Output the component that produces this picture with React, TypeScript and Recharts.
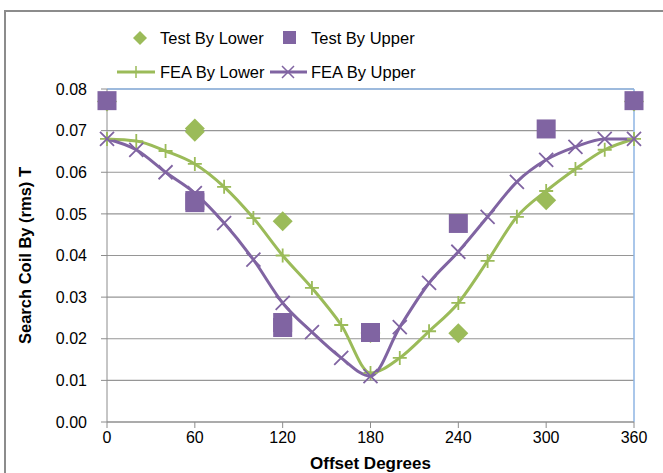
import {
  ComposedChart,
  Line,
  Scatter,
  XAxis,
  YAxis,
  CartesianGrid,
  ReferenceLine,
} from "recharts";

// offset angles (deg) and readings
const feaAngles = [0, 20, 40, 60, 80, 100, 120, 140, 160, 180, 200, 220, 240, 260, 280, 300, 320, 340, 360];
const feaLower = [0.068, 0.0675, 0.0651, 0.062, 0.0565, 0.049, 0.040, 0.0322, 0.0233, 0.0118, 0.0154, 0.0218, 0.0286, 0.0387, 0.0493, 0.0555, 0.0608, 0.0654, 0.068];
const feaUpper = [0.068, 0.0654, 0.060, 0.055, 0.0478, 0.039, 0.0286, 0.0216, 0.0154, 0.0110, 0.0228, 0.0334, 0.0409, 0.0493, 0.0577, 0.063, 0.0661, 0.068, 0.068];

const testLowerAngles = [0, 60, 60, 120, 180, 240, 300, 360];
const testLowerValues = [0.077, 0.0705, 0.0697, 0.0482, 0.0214, 0.0213, 0.0533, 0.077];
const testUpperAngles = [0, 60, 60, 120, 120, 180, 240, 300, 360];
const testUpperValues = [0.0772, 0.0532, 0.0527, 0.0239, 0.0227, 0.0215, 0.0477, 0.0704, 0.0772];

const xTicks = [0, 60, 120, 180, 240, 300, 360];
const yTicks = [0, 0.01, 0.02, 0.03, 0.04, 0.05, 0.06, 0.07, 0.08];

const GREEN = "#9BBB59";
const PURPLE = "#8064A2";
const FONT = "'Liberation Sans', Arial, sans-serif";

const feaLowerData = feaAngles.map((a, i) => ({ x: a, y: feaLower[i] }));
const feaUpperData = feaAngles.map((a, i) => ({ x: a, y: feaUpper[i] }));
const testLowerData = testLowerAngles.map((a, i) => ({ x: a, y: testLowerValues[i] }));
const testUpperData = testUpperAngles.map((a, i) => ({ x: a, y: testUpperValues[i] }));

function Diamond(props: any) {
  const { cx, cy } = props;
  const r = 10;
  return <path d={`M${cx},${cy - r}L${cx + r},${cy}L${cx},${cy + r}L${cx - r},${cy}Z`} fill={GREEN} />;
}

function Square(props: any) {
  const { cx, cy } = props;
  return <rect x={cx - 9.5} y={cy - 9.5} width={19} height={19} fill={PURPLE} />;
}

function PlusDot(props: any) {
  const { cx, cy, index } = props;
  const r = 7;
  return (
    <path key={`p${index}`} d={`M${cx - r},${cy}H${cx + r}M${cx},${cy - r}V${cy + r}`} stroke={GREEN} strokeWidth={1.8} fill="none" />
  );
}

function CrossDot(props: any) {
  const { cx, cy, index } = props;
  const r = 7;
  return (
    <path key={`c${index}`} d={`M${cx - r},${cy - r}L${cx + r},${cy + r}M${cx - r},${cy + r}L${cx + r},${cy - r}`} stroke={PURPLE} strokeWidth={1.8} fill="none" />
  );
}

function LegendBox() {
  const text: React.CSSProperties = { position: "absolute", fontFamily: FONT, fontSize: 16.5, color: "#000", lineHeight: "18px", whiteSpace: "nowrap" };
  return (
    <div style={{ position: "absolute", left: 0, top: 20, width: 663, height: 70 }}>
      <svg width={663} height={70} style={{ position: "absolute", left: 0, top: 0 }}>
        <path d="M140,11L147,18L140,25L133,18Z" fill={GREEN} />
        <rect x={283} y={11} width={13} height={13} fill={PURPLE} />
        <line x1={117} y1={52} x2={155} y2={52} stroke={GREEN} strokeWidth={3} />
        <path d="M130,52H142M136,46V58" stroke={GREEN} strokeWidth={1.5} />
        <line x1={270} y1={52} x2={307} y2={52} stroke={PURPLE} strokeWidth={3} />
        <path d="M282,46L294,58M282,58L294,46" stroke={PURPLE} strokeWidth={1.5} />
      </svg>
      <span style={{ ...text, left: 160, top: 9 }}>Test By Lower</span>
      <span style={{ ...text, left: 311, top: 9 }}>Test By Upper</span>
      <span style={{ ...text, left: 160, top: 43 }}>FEA By Lower</span>
      <span style={{ ...text, left: 311, top: 43 }}>FEA By Upper</span>
    </div>
  );
}

export default function App() {
  return (
    <div style={{ position: "absolute", left: 0, top: 0, width: 663, height: 473, background: "#fff", overflow: "hidden" }}>
      <div style={{ position: "absolute", left: 4, top: 10, width: 700, height: 500, border: "2px solid #8c8c8c", boxSizing: "border-box" }} />
      <ComposedChart
        width={663}
        height={473}
        margin={{ top: 89, right: 29, bottom: 0, left: 0 }}
        style={{ position: "absolute", left: 0, top: 0 }}
      >
        <CartesianGrid vertical={false} stroke="#969696" strokeWidth={1.2} />
        <XAxis
          type="number"
          dataKey="x"
          domain={[0, 360]}
          ticks={xTicks}
          interval={0}
          allowDuplicatedCategory={false}
          height={51}
          stroke="#8c8c8c"
          tickSize={6}
          tickMargin={4}
          tick={{ fontSize: 16, fill: "#000", fontFamily: FONT }}
          label={{ value: "Offset Degrees", position: "insideBottom", offset: 4, fontSize: 17, fontWeight: "bold", fill: "#000", fontFamily: FONT }}
        />
        <YAxis
          type="number"
          dataKey="y"
          domain={[0, 0.08]}
          ticks={yTicks}
          interval={0}
          width={107}
          stroke="#8c8c8c"
          tickSize={6}
          tickMargin={14}
          tickFormatter={(v: number) => v.toFixed(2)}
          tick={{ fontSize: 16, fill: "#000", fontFamily: FONT }}
          label={{ value: "Search Coil By (rms) T", angle: -90, position: "center", dx: -28, fontSize: 16.5, fontWeight: "bold", fill: "#000", fontFamily: FONT }}
        />
        <ReferenceLine y={0.08} stroke="#8EB4E3" strokeWidth={1.5} />
        <ReferenceLine x={360} stroke="#8EB4E3" strokeWidth={1.5} />
        <Scatter name="Test By Lower" data={testLowerData} shape={<Diamond />} isAnimationActive={false} />
        <Scatter name="Test By Upper" data={testUpperData} shape={<Square />} isAnimationActive={false} />
        <Line
          name="FEA By Lower"
          data={feaLowerData}
          dataKey="y"
          type="monotone"
          stroke={GREEN}
          strokeWidth={3}
          dot={PlusDot}
          activeDot={false}
          isAnimationActive={false}
        />
        <Line
          name="FEA By Upper"
          data={feaUpperData}
          dataKey="y"
          type="monotone"
          stroke={PURPLE}
          strokeWidth={3}
          dot={CrossDot}
          activeDot={false}
          isAnimationActive={false}
        />
      </ComposedChart>
      <LegendBox />
    </div>
  );
}
